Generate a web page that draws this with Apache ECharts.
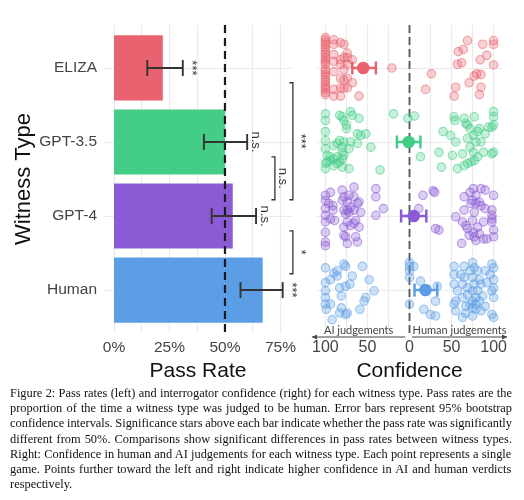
<!DOCTYPE html>
<html><head><meta charset="utf-8">
<script src="https://cdn.jsdelivr.net/npm/echarts@6/dist/echarts.min.js"></script>
<style>
html,body{margin:0;padding:0;background:#fff;}
#chart{position:absolute;left:0;top:0;width:524px;height:500px;}
#caption{position:absolute;left:10px;top:386px;width:502px;font-family:"Liberation Serif","Times New Roman",serif;font-size:12.4px;line-height:15.2px;color:#111;}
#caption div{white-space:nowrap;}
</style></head>
<body>
<div id="chart"></div>
<div id="caption"></div>
<script>
// ---------- DATA ----------
const categories = ['ELIZA', 'GPT-3.5', 'GPT-4', 'Human'];
const passRate = [0.22, 0.50, 0.535, 0.67];
const passLow = [0.15, 0.405, 0.44, 0.57];
const passHigh = [0.31, 0.60, 0.64, 0.76];
const passSig = ['***', 'n.s.', 'n.s.', '***'];
const comparisons = [[1, 2, 'n.s.'], [0, 2, '***'], [2, 3, '*']];
const passTickLabels = [0, 0.25, 0.5, 0.75];
const passGridTicks = [0, 0.125, 0.25, 0.375, 0.5, 0.625, 0.75];
const confTickLabels = [-100, -50, 0, 50, 100];
const confGridTicks = [-100, -75, -50, -25, 0, 25, 50, 75, 100];
const confMean = [-55, -1, 5, 19];
const confLow = [-68, -15, -10, 6];
const confHigh = [-40, 13, 20, 33];
// [confidence, vertical jitter]
const elizaConf = [
[-100,-0.41],[-100,-0.38],[-100,-0.35],[-100,-0.32],[-100,-0.28],[-100,-0.25],[-100,-0.21],[-100,-0.18],[-100,-0.14],[-100,-0.11],[-100,-0.08],[-100,-0.05],[-100,0.02],[-100,0.05],[-100,0.09],[-100,0.12],[-100,0.16],[-100,0.19],[-100,0.23],[-100,0.26],[-100,0.29],[-100,0.33],[-100,0.36],
[-90,-0.38],[-90,-0.32],[-90,-0.18],[-90,-0.09],[-90,0.05],[-90,0.29],[-90,0.38],
[-82,-0.34],[-82,-0.11],[-82,-0.05],[-82,0.14],[-82,0.27],[-82,0.38],
[-78,-0.32],[-78,-0.14],[-78,0.02],[-78,0.16],[-78,0.27],
[-74,-0.2],[-74,-0.14],[-74,-0.05],[-74,0.14],[-74,0.27],
[-68,-0.11],[-68,0.2],[-60,0.38],[-21,0],
[19,0.29],[26,0.08],[53,0.38],[55,0.26],[57,-0.05],[58,-0.22],[62,-0.07],[64,-0.25],[69,-0.37],[71,0.2],[77,0.11],[80,0.08],[84,-0.11],[85,0.09],[85,0.26],[83,0.36],[87,-0.32],[92,-0.17],[100,-0.37],[100,-0.32],[100,-0.04]
];
const gpt35Conf = [
[-100,-0.38],[-100,-0.29],[-100,-0.14],[-100,-0.02],[-100,0.09],[-100,0.29],[-100,0.36],
[-98,0.18],[-98,0.27],[-94,0.25],[-94,0.2],[-90,0.05],[-90,0.23],[-90,0.32],
[-86,0.02],[-86,0.2],[-86,0.29],[-83,-0.36],[-83,-0.02],[-83,0.27],
[-80,-0.34],[-80,0.07],[-80,0.14],[-80,0.23],[-80,0.34],
[-78,-0.29],[-78,0],[-78,0.18],[-75,-0.23],[-75,-0.18],[-72,0.36],[-72,0.09],
[-70,-0.41],[-70,0],[-68,-0.36],[-62,-0.11],[-62,0.02],[-60,-0.32],[-58,-0.09],
[-52,-0.11],[-46,0.07],[-35,0.38],[-19,-0.38],[-2,-0.32],[6,-0.35],[13,0.2],
[35,0.14],[38,0.34],[40,-0.14],[49,-0.09],[51,0.18],[53,-0.34],[54,-0.29],[55,0],[57,0.36],
[63,0.16],[65,-0.32],[65,0.32],[67,-0.25],[69,-0.23],[69,-0.05],[69,0.29],[72,-0.18],[72,0.07],[73,0.27],
[76,-0.09],[76,0.14],[77,-0.34],[77,0.25],[79,0],[81,-0.14],[81,0.2],[83,-0.18],[85,0],[88,0.14],
[90,-0.11],[94,-0.2],[98,-0.2],[98,0.16],[100,-0.41],[100,-0.34],[100,-0.23],[100,0.14]
];
const gpt4Conf = [
[-100,-0.28],[-100,-0.21],[-100,-0.1],[-100,-0.01],[-100,0.08],[-100,0.22],[-100,0.35],[-100,0.4],
[-96,-0.17],[-94,-0.32],[-94,0.04],[-91,-0.14],[-91,-0.08],[-89,0.06],
[-80,-0.35],[-80,-0.21],[-78,-0.26],[-78,-0.08],[-78,0.15],[-78,0.26],[-76,-0.03],[-76,0.28],
[-74,-0.19],[-74,-0.08],[-74,0.08],[-74,0.37],[-72,-0.28],[-72,-0.05],[-70,-0.12],[-70,0.13],
[-66,-0.39],[-66,-0.26],[-66,-0.08],[-66,0.1],[-64,0.06],[-64,0.28],[-62,-0.17],[-62,0.35],
[-60,-0.19],[-60,0.15],[-58,-0.05],[-40,-0.37],[-40,-0.26],[-40,-0.01],[-31,-0.1],
[11,-0.1],[16,-0.28],[28,-0.34],[30,-0.32],[31,0.17],[35,0.19],
[55,0.01],[62,0.37],[63,0.08],[65,-0.08],[65,-0.26],[67,0.13],[69,0.17],[71,0.26],[72,-0.32],[73,-0.17],
[75,-0.21],[75,0.06],[76,-0.37],[76,0.22],[77,0.28],[77,-0.05],[79,-0.28],[79,-0.17],[79,0.33],[81,0.15],
[83,-0.19],[83,0.24],[85,-0.37],[85,-0.14],[88,0.31],[88,0.08],[90,-0.35],[90,-0.1],[92,0.31],
[98,-0.08],[98,-0.01],[98,0.04],[98,0.08],[100,-0.28],[100,0.19],[100,0.28]
];
const humanConf = [
[-100,-0.3],[-100,-0.1],[-100,0.01],[-100,0.1],[-100,0.19],[-99,0.26],
[-94,-0.14],[-94,0.19],[-92,0.4],[-90,-0.23],[-86,-0.26],[-86,-0.19],[-83,-0.03],[-83,0.31],
[-81,0.08],[-81,0.24],[-78,-0.35],[-76,-0.32],[-76,-0.05],[-76,0.33],[-74,0.31],[-71,-0.08],[-68,-0.19],
[-59,0.26],[-56,-0.32],[-54,0.15],[-52,0.1],[-48,-0.14],[-42,0.01],
[0,-0.37],[0,-0.26],[0,-0.17],[0,0.19],[0,-0.32],[5,-0.32],[13,-0.12],[17,0.26],[25,0.33],[31,0.15],[31,0.35],[33,-0.05],
[53,-0.32],[53,-0.21],[53,-0.08],[53,0.19],[55,0.15],[55,0.28],[57,0.01],[61,-0.21],
[63,-0.08],[63,0.1],[63,0.37],[65,-0.32],[65,-0.17],[67,0.22],[67,0.31],[69,-0.03],[69,0.06],[72,-0.26],[72,0.19],
[75,-0.37],[75,-0.17],[75,0.01],[75,0.15],[75,0.24],[75,0.35],[77,-0.3],[77,-0.08],
[79,0.1],[79,0.19],[79,0.26],[81,-0.26],[81,0.01],[83,-0.14],[83,0.15],[85,-0.08],[85,0.28],[87,0.08],
[90,-0.26],[90,0.22],[92,-0.1],[96,-0.21],[98,-0.35],[98,0.01],[98,0.33],
[100,-0.3],[100,-0.14],[100,-0.03],[100,0.1],[100,0.37]
];
const confPoints = [elizaConf, gpt35Conf, gpt4Conf, humanConf];
const captionLines = [
'Figure 2: Pass rates (left) and interrogator confidence (right) for each witness type. Pass rates are the',
'proportion of the time a witness type was judged to be human. Error bars represent 95% bootstrap',
'confidence intervals. Significance stars above each bar indicate whether the pass rate was significantly',
'different from 50%. Comparisons show significant differences in pass rates between witness types.',
'Right: Confidence in human and AI judgements for each witness type. Each point represents a single',
'game. Points further toward the left and right indicate higher confidence in AI and human verdicts',
'respectively.'
];

// ---------- STYLE ----------
const colors = ['#E8636F', '#43CD86', '#8B5BD5', '#5B9EE5'];
const rgba = (hex, a) => {
  const n = parseInt(hex.slice(1), 16);
  return 'rgba(' + (n >> 16) + ',' + ((n >> 8) & 255) + ',' + (n & 255) + ',' + a + ')';
};
const FONT = '"Liberation Sans", Arial, sans-serif';
const yMin = -0.58, yMax = 3.58;
const gridColor = '#EBEBEB';
const bracketX = [0.725, 0.806, 0.806];

const chart = echarts.init(document.getElementById('chart'), null, {renderer: 'canvas'});

const yAxisBase = (gi, showLabels) => ({
  type: 'value', gridIndex: gi, min: yMin, max: yMax, inverse: true,
  axisLine: {show: false},
  axisTick: {show: false, customValues: [0, 1, 2, 3]},
  splitLine: {show: true, lineStyle: {color: gridColor, width: 1.2}},
  axisLabel: showLabels ? {
    show: true, customValues: [0, 1, 2, 3], formatter: v => categories[Math.round(v)],
    fontFamily: FONT, fontSize: 15.5, color: '#444', margin: 7
  } : {show: false}
});

const series = [];

// bars
series.push({
  type: 'custom', xAxisIndex: 0, yAxisIndex: 0, silent: true,
  data: categories.map((c, i) => [passRate[i], i]),
  renderItem: (p, api) => {
    const v = api.value(0), i = api.value(1);
    const a = api.coord([0, i - 0.44]), b = api.coord([v, i + 0.44]);
    return {type: 'rect', shape: {x: a[0], y: Math.min(a[1], b[1]), width: b[0] - a[0], height: Math.abs(b[1] - a[1])},
      style: {fill: colors[i]}};
  }
});
// dashed 50% line
series.push({
  type: 'custom', xAxisIndex: 0, yAxisIndex: 0, silent: true, data: [[0.5]],
  renderItem: (p, api) => {
    const a = api.coord([api.value(0), yMin]), b = api.coord([api.value(0), yMax]);
    return {type: 'line', shape: {x1: a[0], y1: a[1], x2: b[0], y2: b[1]},
      style: {stroke: '#1a1a1a', lineWidth: 2.2, lineDash: [8, 5]}};
  }
});
// error bars + significance
series.push({
  type: 'custom', xAxisIndex: 0, yAxisIndex: 0, silent: true,
  data: categories.map((c, i) => [passLow[i], passHigh[i], i]),
  renderItem: (p, api) => {
    const lo = api.value(0), hi = api.value(1), i = api.value(2);
    const a = api.coord([lo, i]), b = api.coord([hi, i]);
    const t = api.coord([hi + 0.04, i]);
    const st = {stroke: '#333', lineWidth: 1.9};
    return {type: 'group', children: [
      {type: 'line', shape: {x1: a[0], y1: a[1], x2: b[0], y2: b[1]}, style: st},
      {type: 'line', shape: {x1: a[0], y1: a[1] - 8, x2: a[0], y2: a[1] + 8}, style: st},
      {type: 'line', shape: {x1: b[0], y1: b[1] - 8, x2: b[0], y2: b[1] + 8}, style: st},
      {type: 'text', x: t[0], y: t[1], rotation: -Math.PI / 2,
        style: {text: passSig[i], x: 0, y: 0, align: 'center', verticalAlign: 'middle', fill: '#333', font: '13px ' + FONT}}
    ]};
  }
});
// comparison brackets
series.push({
  type: 'custom', xAxisIndex: 0, yAxisIndex: 0, silent: true,
  data: comparisons.map((c, k) => [c[0], c[1], k]),
  renderItem: (p, api) => {
    const i1 = api.value(0), i2 = api.value(1), k = api.value(2);
    const a = api.coord([bracketX[k], i1 + 0.2]), b = api.coord([bracketX[k], i2 - 0.22]);
    const st = {stroke: '#333', lineWidth: 1.3, fill: null};
    return {type: 'group', children: [
      {type: 'polyline', shape: {points: [[a[0] - 3.5, a[1]], [a[0], a[1]], [b[0], b[1]], [b[0] - 3.5, b[1]]]}, style: st},
      {type: 'text', x: a[0] + 8, y: (a[1] + b[1]) / 2, rotation: -Math.PI / 2,
        style: {text: comparisons[k][2], x: 0, y: 0, align: 'center', verticalAlign: 'middle', fill: '#333', font: '13px ' + FONT}}
    ]};
  }
});

// right: scatter points
confPoints.forEach((pts, i) => {
  series.push({
    type: 'scatter', xAxisIndex: 1, yAxisIndex: 1, silent: true,
    symbolSize: 8.5,
    data: pts.map(d => [d[0], i + d[1]]),
    itemStyle: {color: rgba(colors[i], 0.38), borderColor: rgba(colors[i], 0.7), borderWidth: 1.1}
  });
});
// right: dashed zero line
series.push({
  type: 'custom', xAxisIndex: 1, yAxisIndex: 1, silent: true, data: [[0]],
  renderItem: (p, api) => {
    const a = api.coord([api.value(0), yMin]), b = api.coord([api.value(0), yMax]);
    return {type: 'line', shape: {x1: a[0], y1: a[1], x2: b[0], y2: b[1] + 1},
      style: {stroke: '#555', lineWidth: 1.8, lineDash: [8, 4]}};
  }
});
// right: mean + CI
series.push({
  type: 'custom', xAxisIndex: 1, yAxisIndex: 1, silent: true,
  data: categories.map((c, i) => [confMean[i], confLow[i], confHigh[i], i]),
  renderItem: (p, api) => {
    const m = api.value(0), lo = api.value(1), hi = api.value(2), i = api.value(3);
    const a = api.coord([lo, i]), b = api.coord([hi, i]), c = api.coord([m, i]);
    const st = {stroke: colors[i], lineWidth: 2.5};
    return {type: 'group', children: [
      {type: 'line', shape: {x1: a[0], y1: a[1], x2: b[0], y2: b[1]}, style: st},
      {type: 'line', shape: {x1: a[0], y1: a[1] - 6.5, x2: a[0], y2: a[1] + 6.5}, style: st},
      {type: 'line', shape: {x1: b[0], y1: b[1] - 6.5, x2: b[0], y2: b[1] + 6.5}, style: st},
      {type: 'circle', shape: {cx: c[0], cy: c[1], r: 6.3}, style: {fill: colors[i]}}
    ]};
  }
});
// right: AI / Human judgement arrows
const judgeLabels = [['AI judgements', -5, -116], ['Human judgements', 3, 116]];
series.push({
  type: 'custom', xAxisIndex: 1, yAxisIndex: 1, silent: true,
  data: judgeLabels.map((d, k) => [d[1], d[2], k]),
  renderItem: (p, api) => {
    const x1 = api.value(0), x2 = api.value(1), k = api.value(2);
    const a = api.coord([x1, yMax]), b = api.coord([x2, yMax]);
    const y = a[1] + 4;
    const dir = Math.sign(b[0] - a[0]);
    return {type: 'group', children: [
      {type: 'line', shape: {x1: a[0], y1: y, x2: b[0], y2: y}, style: {stroke: '#444', lineWidth: 1}},
      {type: 'polygon', shape: {points: [[b[0], y], [b[0] - dir * 5, y - 2.5], [b[0] - dir * 5, y + 2.5]]}, style: {fill: '#444'}},
      {type: 'text', x: (a[0] + b[0]) / 2, y: y - 1.5,
        style: {text: judgeLabels[k][0], x: 0, y: 0, align: 'center', verticalAlign: 'bottom', fill: '#444', font: '11px Lato, sans-serif'}}
    ]};
  }
});

chart.setOption({
  backgroundColor: '#fff',
  animation: false,
  grid: [
    {left: 104, top: 25, width: 188, height: 308},
    {left: 317, top: 25, width: 185, height: 308}
  ],
  xAxis: [
    {type: 'value', gridIndex: 0, min: -0.045, max: 0.802,
      name: 'Pass Rate', nameLocation: 'middle', nameGap: 20,
      nameTextStyle: {fontFamily: FONT, fontSize: 21, color: '#111'},
      axisLine: {show: false},
      axisTick: {show: false, customValues: passGridTicks},
      splitLine: {show: true, lineStyle: {color: gridColor, width: 1.2}},
      axisLabel: {customValues: passTickLabels, formatter: v => Math.round(v * 100) + '%',
        fontFamily: FONT, fontSize: 15.5, color: '#444', margin: 7}},
    {type: 'value', gridIndex: 1, min: -110, max: 110,
      name: 'Confidence', nameLocation: 'middle', nameGap: 20,
      nameTextStyle: {fontFamily: FONT, fontSize: 21, color: '#111'},
      axisLine: {show: false},
      axisTick: {show: false, customValues: confGridTicks},
      splitLine: {show: true, lineStyle: {color: gridColor, width: 1.2}},
      axisLabel: {customValues: confTickLabels, formatter: v => String(Math.abs(v)),
        fontFamily: FONT, fontSize: 16, color: '#444', margin: 7}}
  ],
  yAxis: [
    Object.assign(yAxisBase(0, true), {name: 'Witness Type', nameLocation: 'middle', nameRotate: 90, nameGap: 67,
      nameTextStyle: {fontFamily: FONT, fontSize: 22, color: '#111'}}),
    yAxisBase(1, false)
  ],
  series: series
});

// caption
const cap = document.getElementById('caption');
const ctx = document.createElement('canvas').getContext('2d');
const cs = getComputedStyle(cap);
ctx.font = cs.fontSize + ' ' + cs.fontFamily;
const capWidth = 502;
captionLines.forEach((t, k) => {
  const d = document.createElement('div');
  d.textContent = t;
  if (k < captionLines.length - 1) {
    const w = ctx.measureText(t).width;
    const n = (t.match(/ /g) || []).length;
    d.style.wordSpacing = ((capWidth - w) / n) + 'px';
  }
  cap.appendChild(d);
});
</script>
</body></html>
